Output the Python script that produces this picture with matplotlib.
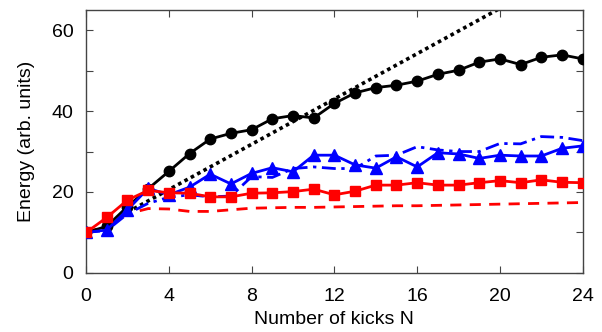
import matplotlib
matplotlib.use("Agg")
import matplotlib.pyplot as plt
from matplotlib.ticker import FixedLocator

plt.rcParams['font.family'] = ['Liberation Sans', 'DejaVu Sans']

N = list(range(25))
black_circles = [10.0, 11.5, 16.4, 20.8, 25.1, 29.5, 33.1, 34.5, 35.4, 38.1, 38.9, 38.3,
                 41.9, 44.5, 45.8, 46.4, 47.4, 49.1, 50.1, 52.1, 52.9, 51.5, 53.3, 53.9, 52.9]
blue_triangles = [10.0, 10.6, 15.6, 20.9, 19.3, 21.2, 24.4, 22.0, 24.6, 26.0, 25.0, 29.1,
                  29.1, 26.7, 25.9, 28.7, 26.2, 29.7, 29.4, 28.3, 29.1, 28.9, 28.9, 30.8, 31.4]
blue_dashdot = [10.0, 10.5, 14.6, 17.2, 18.7, 19.3, 18.8, 19.0, 23.8, 23.6, 25.8, 26.2,
                25.8, 25.8, 28.9, 29.1, 31.2, 30.4, 30.0, 30.0, 32.0, 31.9, 33.7, 33.5, 32.7]
red_squares = [10.0, 13.7, 18.0, 20.4, 19.8, 19.7, 18.8, 18.8, 19.7, 19.8, 20.1, 20.7,
               19.3, 20.2, 21.7, 21.7, 22.3, 21.7, 21.7, 22.3, 22.8, 22.3, 23.0, 22.4, 22.3]
red_dashed = [10.0, 11.6, 14.6, 15.9, 15.8, 15.2, 15.2, 15.6, 16.0, 16.1, 16.2, 16.2,
              16.3, 16.4, 16.5, 16.6, 16.6, 16.7, 16.8, 16.9, 17.0, 17.1, 17.2, 17.3, 17.4]
dotted_x = [2, 24]
dotted_y = [15.0, 76.6]

x_ticks = [0, 4, 8, 12, 16, 20, 24]
y_ticks = [0, 20, 40, 60]

fig = plt.figure(figsize=(6.02, 3.32), dpi=100)
ax = fig.add_axes([0.143, 0.178, 0.825, 0.792])

lw = 2.0
ax.plot(dotted_x, dotted_y, color='black', ls=(0, (1, 1)), lw=2.6, zorder=2)
ax.plot(N, red_dashed, color='#ff0000', ls=(0, (4, 3)), lw=lw, zorder=2)
ax.plot(N, blue_dashdot, color='#0000ff', ls=(0, (5, 2, 1.2, 2)), lw=lw, zorder=2)
ax.plot(N, black_circles, color='black', marker='o', ms=7.5, lw=lw, zorder=3)
ax.plot(N, blue_triangles, color='#0000ff', marker='^', ms=8.5, lw=lw, zorder=3)
ax.plot(N, red_squares, color='#ff0000', marker='s', ms=7, lw=lw, zorder=4)

ax.set_xlim(0, 24)
ax.set_ylim(0, 65)
ax.set_xticks(x_ticks)
ax.set_yticks(y_ticks)
ax.yaxis.set_minor_locator(FixedLocator([10, 30, 50]))
ax.tick_params(which='both', direction='in', top=True, right=True, length=5,
               width=0.8, color='#444444', labelsize=14)
ax.tick_params(axis='x', pad=11)
ax.tick_params(axis='y', pad=9)
for s in ax.spines.values():
    s.set_color('#444444')
    s.set_linewidth(1.0)
ax.set_xlabel('Number of kicks N', fontsize=14, labelpad=4)
ax.set_ylabel('Energy (arb. units)', fontsize=14, labelpad=12)

fig.savefig('out.png', dpi=100)
